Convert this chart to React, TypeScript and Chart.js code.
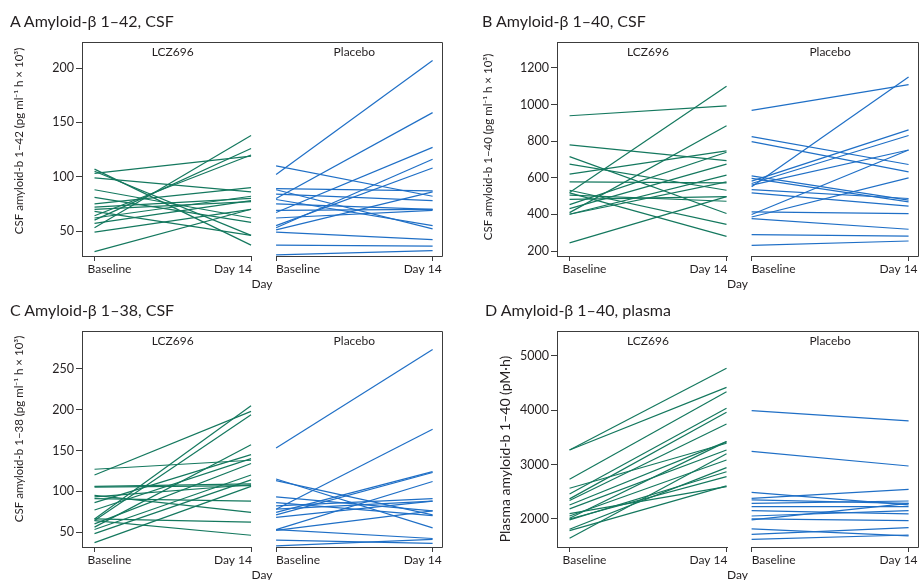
import React, { useEffect, useRef } from 'react';
import { Chart, registerables } from 'chart.js';
Chart.register(...registerables);

const GREEN = '#14785e';
const BLUE = '#1f6fc6';
const FRAME = '#3c3c3c';
const TEXT = '#231f20';
const FONT = 'Lato';

// x positions (units) of the four ticks: LCZ696 baseline/day14, placebo baseline/day14
const xTickValues = [0, 1, 1.16, 2.16];
const xTickLabels = ['Baseline', 'Day 14', 'Baseline', 'Day 14'];
const facetLabels = ['LCZ696', 'Placebo'];
const xAxisTitle = 'Day';

// Panel A: Amyloid-β 1–42, CSF
const aTicks = [50, 100, 150, 200];
const aLczBase = [31, 107, 105, 103, 99, 88, 81, 75, 72, 70, 68, 64, 62, 60, 57, 53, 49];
const aLczDay14 = [70, 37, 46, 119, 86, 62, 58, 90, 80, 77, 46, 120, 82, 126, 78, 138, 70];
const aPboBase = [102, 110, 80, 67, 53, 55, 89, 88, 84, 79, 75, 69, 62, 51, 49, 37, 28];
const aPboDay14 = [207, 82, 159, 127, 116, 108, 87, 52, 78, 55, 70, 70, 69, 86, 42, 36, 32];

// Panel B: Amyloid-β 1–40, CSF
const bTicks = [200, 400, 600, 800, 1000, 1200];
const bLczBase = [939, 520, 410, 780, 716, 675, 620, 578, 532, 518, 505, 482, 454, 432, 401, 401, 245];
const bLczDay14 = [993, 1100, 884, 694, 405, 532, 747, 573, 346, 280, 472, 497, 740, 675, 615, 578, 497];
const bPboBase = [968, 551, 825, 798, 582, 569, 400, 386, 611, 597, 536, 518, 414, 377, 290, 231, 560];
const bPboDay14 = [1109, 1151, 673, 633, 862, 831, 752, 600, 478, 469, 487, 445, 405, 319, 282, 255, 752];

// Panel C: Amyloid-β 1–38, CSF
const cTicks = [50, 100, 150, 200, 250];
const cLczBase = [120, 127, 66, 64, 56, 106, 105, 95, 93, 91, 86, 77, 66, 64, 53, 48, 37, 60];
const cLczDay14 = [198, 138, 205, 194, 157, 109, 107, 74, 108, 88, 145, 140, 62, 46, 120, 114, 106, 134];
const cPboBase = [153, 78, 74, 71, 53, 115, 113, 93, 86, 82, 68, 52, 40, 33, 53, 78];
const cPboDay14 = [274, 176, 124, 123, 112, 55, 71, 76, 70, 91, 88, 76, 36, 41, 42, 88];

// Panel D: Amyloid-β 1–40, plasma
const dTicks = [2000, 3000, 4000, 5000];
const dLczBase = [3270, 3270, 2730, 2460, 2370, 2565, 2340, 2258, 2185, 2055, 2012, 1982, 1810, 1785, 1644, 2000, 2100];
const dLczDay14 = [4773, 4423, 4343, 4037, 3963, 3393, 3748, 3423, 3270, 3086, 3423, 2870, 2945, 2610, 3200, 2780, 2595];
const dPboBase = [3994, 3245, 2491, 2380, 2350, 2288, 2227, 2153, 2055, 2000, 1982, 1816, 1718, 1626];
const dPboDay14 = [3804, 2975, 2258, 2546, 2288, 2331, 2227, 2092, 2153, 1969, 2288, 1687, 1840, 1705];

type Area = { left: number; top: number; right: number; bottom: number };
type PanelDef = {
  title: string;
  titleX: number;
  titleY: number;
  left: number;
  top: number;
  width: number;
  height: number;
  area: Area;
  yMin: number;
  yMax: number;
  yTicks: number[];
  yTitle: string;
  yTitleX: number;
  yTitleY: number;
  yTitleSize: number;
  lczBase: number[];
  lczDay14: number[];
  pboBase: number[];
  pboDay14: number[];
};

const panels: PanelDef[] = [
  {
    title: 'A Amyloid-β 1–42, CSF', titleX: 10, titleY: 21,
    left: 0, top: 0, width: 459, height: 290,
    area: { left: 82, top: 42, right: 442, bottom: 256 },
    yMin: 27, yMax: 224, yTicks: aTicks,
    yTitle: 'CSF amyloid-b 1–42 (pg ml⁻¹ h × 10³)', yTitleX: 19, yTitleY: 141, yTitleSize: 11.5,
    lczBase: aLczBase, lczDay14: aLczDay14, pboBase: aPboBase, pboDay14: aPboDay14,
  },
  {
    title: 'B Amyloid-β 1–40, CSF', titleX: 482, titleY: 21,
    left: 459, top: 0, width: 460, height: 290,
    area: { left: 98, top: 42, right: 459, bottom: 256 },
    yMin: 173, yMax: 1342, yTicks: bTicks,
    yTitle: 'CSF amyloid-b 1–40 (pg ml⁻¹ h × 10³)', yTitleX: 29, yTitleY: 147, yTitleSize: 11.5,
    lczBase: bLczBase, lczDay14: bLczDay14, pboBase: bPboBase, pboDay14: bPboDay14,
  },
  {
    title: 'C Amyloid-β 1–38, CSF', titleX: 10, titleY: 310,
    left: 0, top: 290, width: 459, height: 290,
    area: { left: 82, top: 41, right: 442, bottom: 257 },
    yMin: 31.6, yMax: 296.6, yTicks: cTicks,
    yTitle: 'CSF amyloid-b 1–38 (pg ml⁻¹ h × 10³)', yTitleX: 19, yTitleY: 139, yTitleSize: 11.5,
    lczBase: cLczBase, lczDay14: cLczDay14, pboBase: cPboBase, pboDay14: cPboDay14,
  },
  {
    title: 'D Amyloid-β 1–40, plasma', titleX: 485, titleY: 310,
    left: 459, top: 290, width: 460, height: 290,
    area: { left: 98, top: 41, right: 459, bottom: 257 },
    yMin: 1484, yMax: 5460, yTicks: dTicks,
    yTitle: 'Plasma amyloid-b 1–40 (pM·h)', yTitleX: 46, yTitleY: 159, yTitleSize: 14,
    lczBase: dLczBase, lczDay14: dLczDay14, pboBase: dPboBase, pboDay14: dPboDay14,
  },
];

const labelAlign: CanvasTextAlign[] = ['left', 'right', 'left', 'right'];
const labelShift = [-7, 1, 0, 9];

const framePlugin = {
  id: 'frameAndLabels',
  afterDraw(chart: any) {
    const { ctx, chartArea } = chart;
    const p: PanelDef = chart.options.plugins.frameAndLabels.panel;
    const xs = chart.scales.x;
    const px = xTickValues.map((v) => xs.getPixelForValue(v));
    const { left, right, top, bottom } = chartArea;
    const r = (v: number) => Math.round(v) + 0.5;
    ctx.save();
    ctx.strokeStyle = FRAME;
    ctx.lineWidth = 1;
    ctx.beginPath();
    ctx.moveTo(left, r(top));
    ctx.lineTo(r(right), r(top));
    ctx.lineTo(r(right), r(bottom));
    ctx.moveTo(r(px[2]) - 0.5, r(bottom));
    ctx.lineTo(r(right), r(bottom));
    ctx.moveTo(left, r(bottom));
    ctx.lineTo(r(px[1]) + 0.5, r(bottom));
    ctx.stroke();

    ctx.fillStyle = TEXT;
    ctx.font = `12px ${FONT}`;
    ctx.textBaseline = 'middle';
    xTickLabels.forEach((lab, i) => {
      ctx.textAlign = labelAlign[i];
      ctx.fillText(lab, px[i] + labelShift[i], bottom + 13);
    });
    ctx.textAlign = 'center';
    ctx.fillText(facetLabels[0], (px[0] + px[1]) / 2, top + 10);
    ctx.fillText(facetLabels[1], (px[2] + px[3]) / 2, top + 10);
    ctx.fillText(xAxisTitle, (left + right) / 2, bottom + 28);

    // rotated y-axis title
    ctx.translate(p.yTitleX, p.yTitleY);
    ctx.rotate(-Math.PI / 2);
    ctx.font = `${p.yTitleSize}px ${FONT}`;
    ctx.fillText(p.yTitle, 0, 0);
    ctx.restore();
  },
};

function Panel({ p }: { p: PanelDef }) {
  const ref = useRef<HTMLCanvasElement | null>(null);
  useEffect(() => {
    if (!ref.current) return;
    const datasets: any[] = [];
    p.lczBase.forEach((b, i) => {
      datasets.push({
        data: [{ x: xTickValues[0], y: b }, { x: xTickValues[1], y: p.lczDay14[i] }],
        borderColor: GREEN, borderWidth: 1.2, pointRadius: 0, fill: false, tension: 0,
      });
    });
    p.pboBase.forEach((b, i) => {
      datasets.push({
        data: [{ x: xTickValues[2], y: b }, { x: xTickValues[3], y: p.pboDay14[i] }],
        borderColor: BLUE, borderWidth: 1.2, pointRadius: 0, fill: false, tension: 0,
      });
    });
    const chart = new Chart(ref.current, {
      type: 'line',
      data: { datasets },
      plugins: [framePlugin],
      options: {
        animation: false,
        responsive: false,
        maintainAspectRatio: false,
        layout: { padding: { top: p.area.top, right: p.width - p.area.right, bottom: 0, left: 0 } },
        plugins: {
          legend: { display: false },
          tooltip: { enabled: false },
          title: { display: false },
          frameAndLabels: { panel: p },
        },
        scales: {
          x: {
            type: 'linear',
            min: -0.08,
            max: 2.22,
            afterBuildTicks: (s: any) => { s.ticks = xTickValues.map((v) => ({ value: v })); },
            ticks: { display: false },
            grid: { display: true, drawOnChartArea: false, drawTicks: true, tickLength: 5, color: FRAME, lineWidth: 1 },
            border: { display: false },
            afterFit: (s: any) => { s.height = p.height - p.area.bottom; s.paddingLeft = 0; s.paddingRight = 0; },
          },
          y: {
            type: 'linear',
            min: p.yMin,
            max: p.yMax,
            afterBuildTicks: (s: any) => { s.ticks = p.yTicks.map((v) => ({ value: v })); },
            ticks: { color: TEXT, font: { family: FONT, size: 12.5 }, padding: 2, callback: (v: any) => String(v) },
            grid: { display: true, drawOnChartArea: false, drawTicks: true, tickLength: 6, color: FRAME, lineWidth: 1 },
            border: { display: true, color: FRAME, width: 1 },
            title: { display: false },
            afterFit: (s: any) => { s.width = p.area.left; },
          },
        },
      } as any,
    });
    return () => chart.destroy();
  }, [p]);
  return (
    <canvas
      ref={ref}
      width={p.width}
      height={p.height}
      style={{ position: 'absolute', left: p.left, top: p.top, width: p.width, height: p.height }}
    />
  );
}

export default function App() {
  return (
    <div style={{ position: 'absolute', left: 0, top: 0, width: 919, height: 580, background: '#fff', overflow: 'hidden', fontFamily: FONT }}>
      {panels.map((p, i) => (
        <Panel key={i} p={p} />
      ))}
      {panels.map((p, i) => (
        <div
          key={'t' + i}
          style={{
            position: 'absolute', left: p.titleX, top: p.titleY - 10, fontSize: 16, lineHeight: '20px',
            color: TEXT, whiteSpace: 'nowrap', fontFamily: FONT,
          }}
        >
          {p.title}
        </div>
      ))}
    </div>
  );
}
